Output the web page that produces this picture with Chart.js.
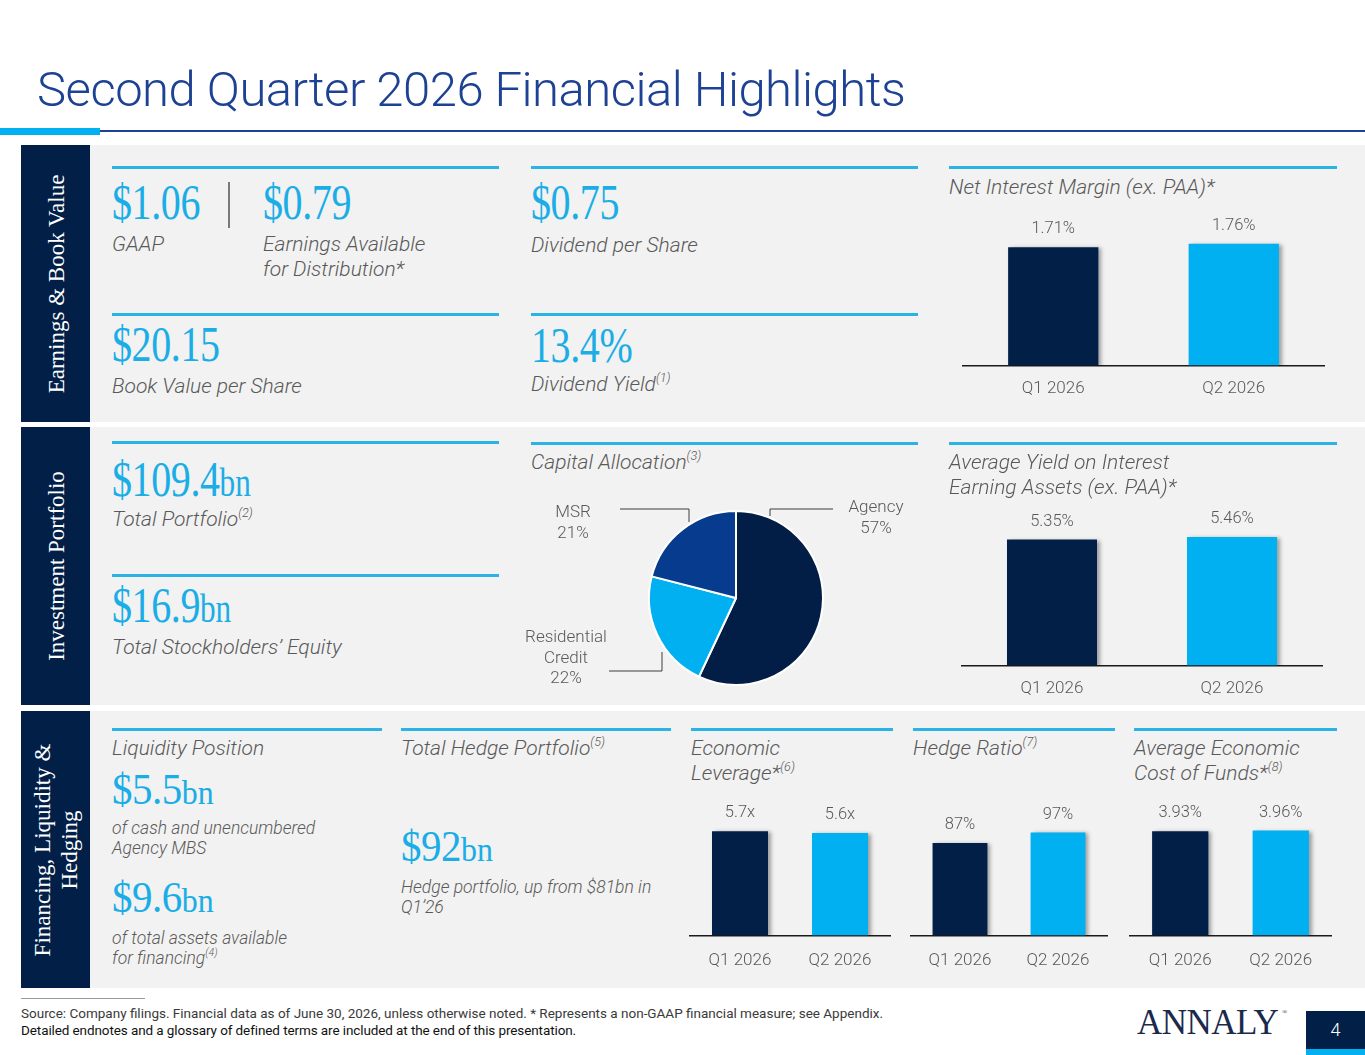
<!DOCTYPE html>
<html>
<head>
<meta charset="utf-8">
<script src="https://cdn.jsdelivr.net/npm/chart.js@4.4.1/dist/chart.umd.min.js"></script>
<style>
  html,body{margin:0;padding:0;background:#fff;}
  body{width:1365px;height:1055px;position:relative;overflow:hidden;font-family:Roboto,"Open Sans",sans-serif;}
  .abs{position:absolute;}
  .title{left:37px;top:60px;font-size:49px;font-weight:300;color:#1d4294;white-space:nowrap;line-height:60px;letter-spacing:-0.5px;}
  .panel{position:absolute;left:90px;width:1275px;background:#f2f2f2;}
  .side{position:absolute;left:21px;width:69px;background:#021f48;}
  .sidetxt{position:absolute;left:55.5px;transform:translate(-50%,-50%) rotate(-90deg);color:#fff;font-family:"Liberation Serif",serif;font-size:23px;line-height:27px;white-space:nowrap;text-align:center;}
  .rule{position:absolute;height:3px;background:#2bb3e6;}
  .big{position:absolute;font-family:"Liberation Serif",serif;color:#1aade6;font-size:50px;line-height:50px;white-space:nowrap;transform:scaleX(0.8);transform-origin:left top;letter-spacing:-0.5px;}
  .big.s3{font-size:44px;line-height:44px;transform:scaleX(0.93);}
  .big small{font-size:0.78em;letter-spacing:0;}
  .lbl{position:absolute;font-style:italic;font-weight:300;color:#595959;font-size:21px;line-height:25px;white-space:nowrap;}
  .lbl.sm{font-size:17.5px;line-height:20px;}
  .lbl sup{font-size:0.6em;line-height:0;vertical-align:0.75em;}
  canvas{position:absolute;}
</style>
</head>
<body>
<script>
// ---------- data ----------
const quarters = ['Q1 2026', 'Q2 2026'];
const netInterestMargin = [1.71, 1.76];
const avgYield = [5.35, 5.46];
const economicLeverage = [5.7, 5.6];
const hedgeRatio = [87, 97];
const costOfFunds = [3.93, 3.96];
const allocationLabels = ['Agency', 'Residential Credit', 'MSR'];
const allocationValues = [57, 22, 21];
</script>

<!-- title -->
<div class="abs title">Second Quarter 2026 Financial Highlights</div>
<div class="abs" style="left:0;top:128px;width:100px;height:7px;background:#00b0f0;"></div>
<div class="abs" style="left:100px;top:130px;width:1265px;height:2px;background:#1d4294;"></div>

<!-- panels -->
<div class="panel" style="top:145px;height:277px;"></div>
<div class="panel" style="top:427px;height:278px;"></div>
<div class="panel" style="top:711px;height:277px;"></div>
<div class="side" style="top:145px;height:277px;"></div>
<div class="side" style="top:427px;height:278px;"></div>
<div class="side" style="top:711px;height:277px;"></div>
<div class="sidetxt" style="top:283.5px;">Earnings &amp; Book Value</div>
<div class="sidetxt" style="top:566px;">Investment Portfolio</div>
<div class="sidetxt" style="top:849.5px;">Financing, Liquidity &amp;<br>Hedging</div>

<!-- section 1 -->
<div class="rule" style="left:112px;top:166px;width:387px;"></div>
<div class="rule" style="left:531px;top:166px;width:387px;"></div>
<div class="rule" style="left:949px;top:166px;width:388px;"></div>
<div class="rule" style="left:112px;top:313px;width:387px;"></div>
<div class="rule" style="left:531px;top:313px;width:387px;"></div>

<div class="big" style="left:112px;top:177px;">$1.06</div>
<div class="abs" style="left:228px;top:182px;width:1.5px;height:46px;background:#7a7a7a;"></div>
<div class="big" style="left:263px;top:177px;">$0.79</div>
<div class="big" style="left:531px;top:177px;">$0.75</div>
<div class="big" style="left:112px;top:319px;">$20.15</div>
<div class="big" style="left:531px;top:320px;">13.4%</div>

<div class="lbl" style="left:112px;top:232px;">GAAP</div>
<div class="lbl" style="left:263px;top:232px;">Earnings Available<br>for Distribution*</div>
<div class="lbl" style="left:531px;top:233px;">Dividend per Share</div>
<div class="lbl" style="left:112px;top:374px;">Book Value per Share</div>
<div class="lbl" style="left:531px;top:372px;">Dividend Yield<sup>(1)</sup></div>
<div class="lbl" style="left:949px;top:175px;">Net Interest Margin (ex. PAA)*</div>
<canvas id="nim" width="388" height="215" style="left:949px;top:197px;"></canvas>

<!-- section 2 -->
<div class="rule" style="left:112px;top:441px;width:387px;"></div>
<div class="rule" style="left:531px;top:442px;width:387px;"></div>
<div class="rule" style="left:949px;top:442px;width:388px;"></div>
<div class="rule" style="left:112px;top:574px;width:387px;"></div>

<div class="big" style="left:112px;top:454px;">$109.4<small>bn</small></div>
<div class="lbl" style="left:112px;top:507px;">Total Portfolio<sup>(2)</sup></div>
<div class="big" style="left:112px;top:580px;">$16.9<small>bn</small></div>
<div class="lbl" style="left:112px;top:635px;">Total Stockholders’ Equity</div>
<div class="lbl" style="left:531px;top:450px;">Capital Allocation<sup>(3)</sup></div>
<canvas id="pie" width="440" height="200" style="left:516px;top:498px;"></canvas>
<div class="lbl" style="left:949px;top:450px;">Average Yield on Interest<br>Earning Assets (ex. PAA)*</div>
<canvas id="yld" width="388" height="215" style="left:949px;top:497px;"></canvas>

<!-- section 3 -->
<div class="rule" style="left:112px;top:728px;width:270px;"></div>
<div class="rule" style="left:401px;top:728px;width:270px;"></div>
<div class="rule" style="left:691px;top:728px;width:202px;"></div>
<div class="rule" style="left:913px;top:728px;width:202px;"></div>
<div class="rule" style="left:1134px;top:728px;width:203px;"></div>

<div class="lbl" style="left:112px;top:736px;">Liquidity Position</div>
<div class="big s3" style="left:112px;top:768px;">$5.5<small>bn</small></div>
<div class="lbl sm" style="left:112px;top:818px;">of cash and unencumbered<br>Agency MBS</div>
<div class="big s3" style="left:112px;top:876px;">$9.6<small>bn</small></div>
<div class="lbl sm" style="left:112px;top:928px;">of total assets available<br>for financing<sup>(4)</sup></div>

<div class="lbl" style="left:401px;top:736px;">Total Hedge Portfolio<sup>(5)</sup></div>
<div class="big s3" style="left:401px;top:825px;">$92<small>bn</small></div>
<div class="lbl sm" style="left:401px;top:877px;">Hedge portfolio, up from $81bn in<br>Q1’26</div>

<div class="lbl" style="left:691px;top:736px;">Economic<br>Leverage*<sup>(6)</sup></div>
<canvas id="lev" width="204" height="200" style="left:689px;top:786px;"></canvas>
<div class="lbl" style="left:913px;top:736px;">Hedge Ratio<sup>(7)</sup></div>
<canvas id="hdg" width="204" height="200" style="left:909px;top:786px;"></canvas>
<div class="lbl" style="left:1134px;top:736px;">Average Economic<br>Cost of Funds*<sup>(8)</sup></div>
<canvas id="cof" width="204" height="200" style="left:1129px;top:786px;"></canvas>

<!-- footer -->
<div class="abs" style="left:21px;top:998px;width:124px;height:1px;background:#9a9a9a;"></div>
<div class="abs" style="left:21px;top:1005px;font-size:13.5px;line-height:17px;color:#3a3a3a;white-space:nowrap;">Source: Company filings. Financial data as of June 30, 2026, unless otherwise noted. * Represents a non-GAAP financial measure; see Appendix.</div>
<div class="abs" style="left:21px;top:1022px;font-size:13.5px;line-height:17px;color:#111;white-space:nowrap;letter-spacing:-0.1px;">Detailed endnotes and a glossary of defined terms are included at the end of this presentation.</div>
<div class="abs" style="left:1137px;top:1003px;font-family:'Liberation Serif',serif;font-size:35px;line-height:40px;color:#1b2a4c;white-space:nowrap;letter-spacing:-0.5px;">ANNALY</div>
<div class="abs" style="left:1282px;top:1008px;font-family:'Liberation Serif',serif;font-size:7px;line-height:8px;color:#1b2a4c;">®</div>
<div class="abs" style="left:1306px;top:1011px;width:59px;height:38px;background:#021f48;color:#fff;font-size:18px;line-height:38px;text-align:center;font-weight:300;">4</div>
<div class="abs" style="left:1306px;top:1049px;width:59px;height:6px;background:#00b0f0;"></div>

<script>
const navy = '#021f48';
const sky = '#00b0f0';
const barColors = [navy, sky];
const grayText = '#595959';

const barDecor = {
  id: 'barDecor',
  beforeDatasetsDraw(chart) {
    const ctx = chart.ctx;
    ctx.save();
    ctx.shadowColor = 'rgba(0,0,0,0.35)';
    ctx.shadowBlur = 4;
    ctx.shadowOffsetX = 3;
    ctx.shadowOffsetY = 1;
  },
  afterDatasetsDraw(chart, args, opts) {
    const ctx = chart.ctx;
    ctx.restore();
    const meta = chart.getDatasetMeta(0);
    const vals = chart.data.datasets[0].data;
    ctx.save();
    ctx.fillStyle = grayText;
    ctx.font = '300 16.5px Roboto';
    ctx.textAlign = 'center';
    ctx.textBaseline = 'middle';
    meta.data.forEach((bar, i) => {
      ctx.fillText(opts.fmt(vals[i]), bar.x, bar.y - 18);
    });
    ctx.restore();
  }
};

function barChart(id, values, fmt, max, catPct, padL, padR, tickPad, padT) {
  return new Chart(document.getElementById(id), {
    type: 'bar',
    data: {
      labels: quarters,
      datasets: [{ data: values, backgroundColor: barColors, borderWidth: 0,
        categoryPercentage: catPct, barPercentage: 1 }]
    },
    options: {
      responsive: false, animation: false, maintainAspectRatio: false,
      layout: { padding: { left: padL, right: padR, top: padT, bottom: 0 } },
      plugins: { legend: { display: false }, tooltip: { enabled: false }, barDecor: { fmt } },
      scales: {
        x: {
          grid: { display: false, drawTicks: false },
          border: { display: true, color: '#1a1a1a', width: 1.5 },
          ticks: { color: grayText, font: { family: 'Roboto', size: 17, weight: 300 }, padding: tickPad }
        },
        y: { display: false, min: 0, max: max }
      }
    },
    plugins: [barDecor]
  });
}

barChart('nim', netInterestMargin, v => v.toFixed(2) + '%', 2.22, 0.5, 14, 13, 13, 15);
barChart('yld', avgYield, v => v.toFixed(2) + '%', 6.52, 0.5, 13, 15, 13, 15);
barChart('lev', economicLeverage, v => v.toFixed(1) + 'x', 8.17, 0.56, 1, 3, 15, 0);
barChart('hdg', hedgeRatio, v => v + '%', 140.6, 0.56, 2, 6, 15, 0);
barChart('cof', costOfFunds, v => v.toFixed(2) + '%', 5.64, 0.56, 1, 2, 15, 0);

// ---------- pie ----------
const pieLabelPlugin = {
  id: 'pieLabels',
  afterDraw(chart) {
    const ctx = chart.ctx;
    const arc = chart.getDatasetMeta(0).data[0];
    const cx = arc.x, cy = arc.y;
    // leader geometry per slice (offsets from centre), style only
    const geo = [
      { line: [[34, -82], [34, -89], [97, -89]], tx: 140, ty: -90 },
      { line: [[-74, 54], [-74, 73], [-127, 73]], tx: -170, ty: 40 },
      { line: [[-47, -76], [-47, -89], [-116, -89]], tx: -163, ty: -85 }
    ];
    ctx.save();
    ctx.strokeStyle = '#3c3c3c';
    ctx.lineWidth = 1;
    ctx.fillStyle = grayText;
    ctx.font = '300 17px Roboto';
    ctx.textAlign = 'center';
    ctx.textBaseline = 'middle';
    geo.forEach((g, i) => {
      ctx.beginPath();
      g.line.forEach((p, k) => {
        const x = cx + p[0], y = cy + p[1];
        if (k === 0) ctx.moveTo(x, y); else ctx.lineTo(x, y);
      });
      ctx.stroke();
      const lines = allocationLabels[i].split(' ').concat([allocationValues[i] + '%']);
      lines.forEach((t, k) => ctx.fillText(t, cx + g.tx, cy + g.ty + k * 20.5));
    });
    ctx.restore();
  }
};

new Chart(document.getElementById('pie'), {
  type: 'pie',
  data: {
    labels: allocationLabels,
    datasets: [{ data: allocationValues, backgroundColor: ['#021e46', '#00b0f0', '#073b8e'],
      borderColor: '#ffffff', borderWidth: 2 }]
  },
  options: {
    responsive: false, animation: false, maintainAspectRatio: false,
    layout: { padding: { left: 132, right: 132, top: 12, bottom: 12 } },
    plugins: { legend: { display: false }, tooltip: { enabled: false } }
  },
  plugins: [pieLabelPlugin]
});
</script>
</body>
</html>
